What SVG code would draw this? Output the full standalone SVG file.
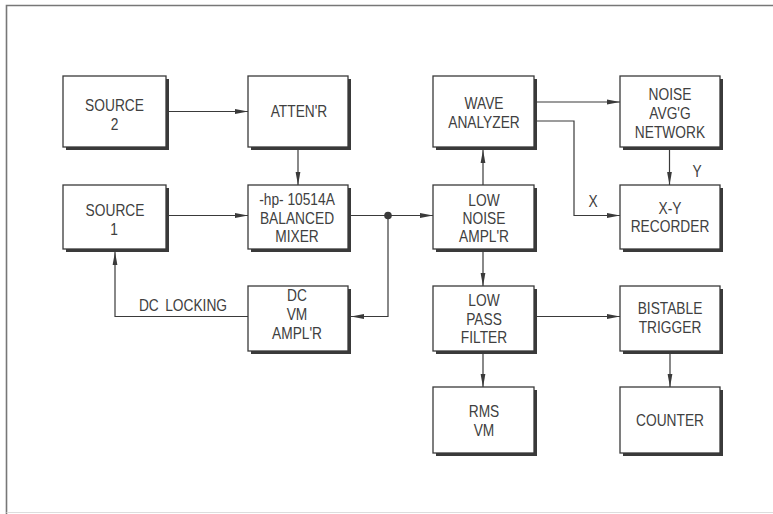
<svg xmlns="http://www.w3.org/2000/svg" width="773" height="514" viewBox="0 0 773 514">
<defs>
<style>
.sh{fill:#3a3a3a}
.bx{fill:#fff;stroke:#3a3a3a;stroke-width:1.3}
.t{font-family:"Liberation Sans",Arial,sans-serif;font-size:16px;fill:#404040;text-anchor:middle}
.c{fill:none;stroke:#3a3a3a;stroke-width:1.2}
.a{marker-end:url(#ah)}
</style>
<marker id="ah" markerUnits="userSpaceOnUse" markerWidth="14" markerHeight="6" refX="13" refY="3" orient="auto">
<path d="M0,0.6 L13,3 L0,5.4 z" fill="#3a3a3a"/>
</marker>
</defs>
<rect width="773" height="514" fill="#fff"/>
<g id="frame">
<path d="M6.5,514 V5.5 H773" fill="none" stroke="#777" stroke-width="1.6"/>
<path d="M6.5,512.5 H773" fill="none" stroke="#ddd" stroke-width="1"/>
</g>
<g id="source2">
<rect class="sh" x="66" y="79" width="103" height="71"/>
<rect class="bx" x="63" y="76" width="103" height="71"/>
<text class="t" transform="translate(114.5,111) scale(0.86,1)">SOURCE</text>
<text class="t" transform="translate(114.5,130) scale(0.86,1)">2</text>
</g>
<g id="atten">
<rect class="sh" x="251" y="79" width="100" height="71"/>
<rect class="bx" x="248" y="76" width="100" height="71"/>
<text class="t" transform="translate(299,117) scale(0.86,1)">ATTEN'R</text>
</g>
<g id="source1">
<rect class="sh" x="66" y="188" width="103" height="64"/>
<rect class="bx" x="63" y="185" width="103" height="64"/>
<text class="t" transform="translate(115,216) scale(0.86,1)">SOURCE</text>
<text class="t" transform="translate(114,235) scale(0.86,1)">1</text>
</g>
<g id="mixer">
<rect class="sh" x="251" y="188" width="100" height="64"/>
<rect class="bx" x="248" y="185" width="100" height="64"/>
<text class="t" transform="translate(297,205) scale(0.86,1)">-hp- 10514A</text>
<text class="t" transform="translate(297,223.5) scale(0.86,1)">BALANCED</text>
<text class="t" transform="translate(297,242) scale(0.86,1)">MIXER</text>
</g>
<g id="dcvm">
<rect class="sh" x="251" y="289" width="100" height="65"/>
<rect class="bx" x="248" y="286" width="100" height="65"/>
<text class="t" transform="translate(297,301) scale(0.86,1)">DC</text>
<text class="t" transform="translate(297,320) scale(0.86,1)">VM</text>
<text class="t" transform="translate(297,339) scale(0.86,1)">AMPL'R</text>
</g>
<g id="wave">
<rect class="sh" x="436" y="79" width="101" height="71"/>
<rect class="bx" x="433" y="76" width="101" height="71"/>
<text class="t" transform="translate(484,109) scale(0.86,1)">WAVE</text>
<text class="t" transform="translate(484,127.5) scale(0.86,1)">ANALYZER</text>
</g>
<g id="noiseavg">
<rect class="sh" x="623" y="79" width="100" height="71"/>
<rect class="bx" x="620" y="76" width="100" height="71"/>
<text class="t" transform="translate(670,100) scale(0.86,1)">NOISE</text>
<text class="t" transform="translate(670,119) scale(0.86,1)">AVG'G</text>
<text class="t" transform="translate(670,138) scale(0.86,1)">NETWORK</text>
</g>
<g id="lownoise">
<rect class="sh" x="436" y="188" width="101" height="64"/>
<rect class="bx" x="433" y="185" width="101" height="64"/>
<text class="t" transform="translate(484,205.5) scale(0.86,1)">LOW</text>
<text class="t" transform="translate(484,223.5) scale(0.86,1)">NOISE</text>
<text class="t" transform="translate(484,241.5) scale(0.86,1)">AMPL'R</text>
</g>
<g id="xy">
<rect class="sh" x="623" y="188" width="100" height="64"/>
<rect class="bx" x="620" y="185" width="100" height="64"/>
<text class="t" transform="translate(670,214) scale(0.86,1)">X-Y</text>
<text class="t" transform="translate(670,232) scale(0.86,1)">RECORDER</text>
</g>
<g id="lowpass">
<rect class="sh" x="436" y="289" width="101" height="65"/>
<rect class="bx" x="433" y="286" width="101" height="65"/>
<text class="t" transform="translate(484,306) scale(0.86,1)">LOW</text>
<text class="t" transform="translate(484,325) scale(0.86,1)">PASS</text>
<text class="t" transform="translate(484,343) scale(0.86,1)">FILTER</text>
</g>
<g id="bistable">
<rect class="sh" x="623" y="289" width="100" height="65"/>
<rect class="bx" x="620" y="286" width="100" height="65"/>
<text class="t" transform="translate(670,314) scale(0.86,1)">BISTABLE</text>
<text class="t" transform="translate(670,332.5) scale(0.86,1)">TRIGGER</text>
</g>
<g id="rmsvm">
<rect class="sh" x="436" y="390" width="101" height="66"/>
<rect class="bx" x="433" y="387" width="101" height="66"/>
<text class="t" transform="translate(484,417) scale(0.86,1)">RMS</text>
<text class="t" transform="translate(484,435.5) scale(0.86,1)">VM</text>
</g>
<g id="counter">
<rect class="sh" x="623" y="390" width="100" height="66"/>
<rect class="bx" x="620" y="387" width="100" height="66"/>
<text class="t" transform="translate(670,425.5) scale(0.86,1)">COUNTER</text>
</g>
<g id="connectors">
<path class="c a" d="M169,111.5 H248"/>
<path class="c a" d="M298,150 V185"/>
<path class="c a" d="M169,215.5 H248"/>
<path class="c a" d="M351,215.5 H433"/>
<circle cx="388" cy="215.5" r="3.8" fill="#3a3a3a"/>
<path class="c a" d="M388,215.5 V316.5 H351"/>
<path class="c a" d="M248,316.5 H115 V252"/>
<path class="c a" d="M483,185 V150"/>
<path class="c a" d="M483,252 V286"/>
<path class="c a" d="M483,354 V387"/>
<path class="c a" d="M537,102 H620"/>
<path class="c a" d="M537,121 H574 V215.5 H620"/>
<path class="c a" d="M669.5,150 V185"/>
<path class="c a" d="M537,316.5 H620"/>
<path class="c a" d="M670,354 V387"/>
<text class="t" transform="translate(183,311) scale(0.86,1)" word-spacing="3">DC LOCKING</text>
<text class="t" transform="translate(593,207) scale(0.86,1)">X</text>
<text class="t" transform="translate(697,177) scale(0.86,1)">Y</text>
</g>
</svg>
